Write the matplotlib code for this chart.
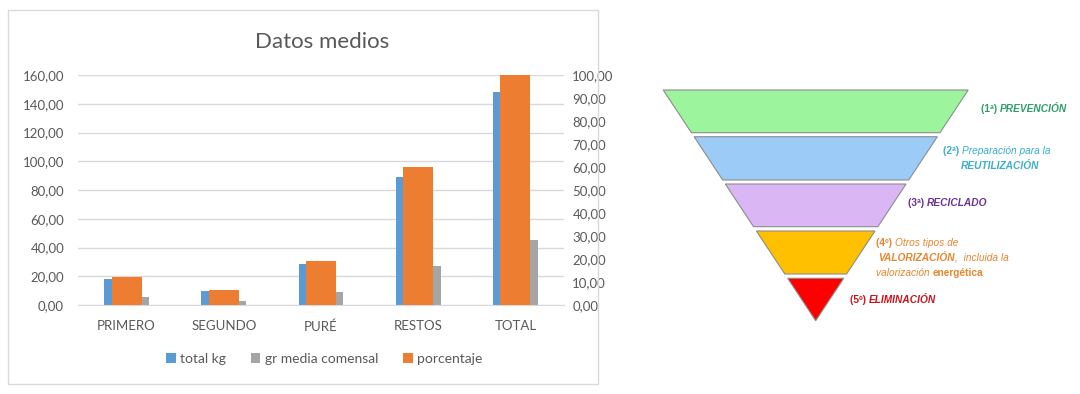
import numpy as np
import matplotlib.pyplot as plt
from matplotlib.patches import Polygon, Rectangle
from matplotlib.ticker import FuncFormatter, MultipleLocator

# datos del grafico
categorias = ['PRIMERO', 'SEGUNDO', 'PURÉ', 'RESTOS', 'TOTAL']
total_kg = [18.1, 9.9, 28.5, 88.8, 148.4]
gr_media = [5.3, 3.0, 8.8, 27.4, 45.2]
porcentaje = [12.2, 6.7, 19.2, 59.9, 100.0]

# piramide invertida (jerarquia de residuos)
colores_nivel = ['#9cf59c', '#9ccbf7', '#dab6f4', '#ffc000', '#fe0000']
textos_nivel = [
    [[('(1ª) ', 'bold', 'normal'), ('PREVENCIÓN', 'bold', 'italic')]],
    [[('(2ª) ', 'bold', 'normal'), ('Preparación para la', 'normal', 'italic')],
     [('REUTILIZACIÓN', 'bold', 'italic')]],
    [[('(3ª) ', 'bold', 'normal'), ('RECICLADO', 'bold', 'italic')]],
    [[('(4º) ', 'bold', 'normal'), ('Otros tipos de', 'normal', 'italic')],
     [('VALORIZACIÓN', 'bold', 'italic'), (',  incluida la', 'normal', 'italic')],
     [('valorización ', 'normal', 'italic'), ('energética', 'bold', 'normal')]],
    [[('(5º) ', 'bold', 'normal'), ('ELIMINACIÓN', 'bold', 'italic')]],
]
colores_texto = ['#2e9e6c', '#3aaecb', '#6a3196', '#e5862e', '#c8141c']

W, H = 1080, 394
fig = plt.figure(figsize=(W / 100, H / 100), dpi=100)

# borde del grafico
fig.patches.append(Rectangle((8 / W, 1 - 384 / H), 590 / W, 374 / H,
                             transform=fig.transFigure, fill=False,
                             edgecolor='#d9d9d9', lw=1))

gris = '#595959'
fuente = 'Lato'
ax = fig.add_axes([78 / W, 89 / H, 486 / W, 230 / H])
ax2 = ax.twinx()

x = np.arange(len(categorias))
ax.bar(x - 0.115, total_kg, 0.23, color='#5b9bd5', label='total kg')
ax.bar(x + 0.115, gr_media, 0.23, color='#a5a5a5', label='gr media comensal')
ax2.bar(x, porcentaje, 0.31, color='#ed7d31', label='porcentaje')

ax.set_xlim(-0.5, 4.5)
ax.set_ylim(0, 160)
ax2.set_ylim(0, 100)
ax.yaxis.set_major_locator(MultipleLocator(20))
ax2.yaxis.set_major_locator(MultipleLocator(10))
coma = FuncFormatter(lambda v, p: f'{v:.2f}'.replace('.', ','))
ax.yaxis.set_major_formatter(coma)
ax2.yaxis.set_major_formatter(coma)
ax.grid(axis='y', color='#d9d9d9', lw=1)
ax.set_axisbelow(True)
ax.set_xticks(x)
ax.set_xticklabels(categorias)

for a in (ax, ax2):
    for s in a.spines.values():
        s.set_visible(False)
    a.tick_params(length=0, colors=gris, labelsize=9.5)
    for t in a.get_xticklabels() + a.get_yticklabels():
        t.set_fontfamily(fuente)
ax.spines['bottom'].set_visible(True)
ax.spines['bottom'].set_color('#d9d9d9')
ax.tick_params(axis='y', pad=10)
ax.tick_params(axis='x', pad=11)
ax2.tick_params(axis='y', pad=6)

fig.text(322 / W, 1 - 42 / H, 'Datos medios', ha='center', va='center',
         fontsize=16, color=gris, family=fuente)

h1, l1 = ax.get_legend_handles_labels()
h2, l2 = ax2.get_legend_handles_labels()
fig.legend(h1 + h2, l1 + l2, loc='center', bbox_to_anchor=(324 / W, 1 - 359 / H),
           ncol=3, frameon=False, handlelength=0.7, handleheight=0.7,
           handletextpad=0.3, columnspacing=1.8,
           prop={'family': fuente, 'size': 10}, labelcolor=gris)

# piramide
axf = fig.add_axes([0, 0, 1, 1])
axf.set_xlim(0, W)
axf.set_ylim(H, 0)
axf.axis('off')

cx, y_top, y_apex, half_top = 815.7, 90.0, 320.7, 152.5
bandas = [(90, 132.7), (136.7, 180), (184, 226.7), (231, 274), (278.3, 320.7)]
texto_pos = [(981, 109), (943, 151), (908, 203), (876, 243), (850, 300)]


def media_anchura(y):
    return half_top * (y_apex - y) / (y_apex - y_top)


for (y0, y1), col in zip(bandas, colores_nivel):
    w0, w1 = media_anchura(y0), media_anchura(y1)
    pts = [(cx - w0, y0), (cx + w0, y0), (cx + w1, y1), (cx - w1, y1)]
    axf.add_patch(Polygon(pts, closed=True, facecolor=col,
                          edgecolor='#8c8c8c', lw=0.8))

for lineas, (tx, ty), col in zip(textos_nivel, texto_pos, colores_texto):
    for i, linea in enumerate(lineas):
        prev = None
        x0 = tx + (18 if (i == 1 and len(lineas) == 2) else (2 if i == 1 else 0))
        for txt, peso, estilo in linea:
            kw = dict(fontsize=7.3, color=col, family='Liberation Sans',
                      weight=peso, style=estilo, va='center')
            if prev is None:
                prev = axf.text(x0, ty + i * 15, txt, ha='left', **kw)
            else:
                prev = axf.annotate(txt, xy=(1, 0.5), xycoords=prev,
                                    ha='left', **kw)

fig.savefig('out.png', dpi=100)
